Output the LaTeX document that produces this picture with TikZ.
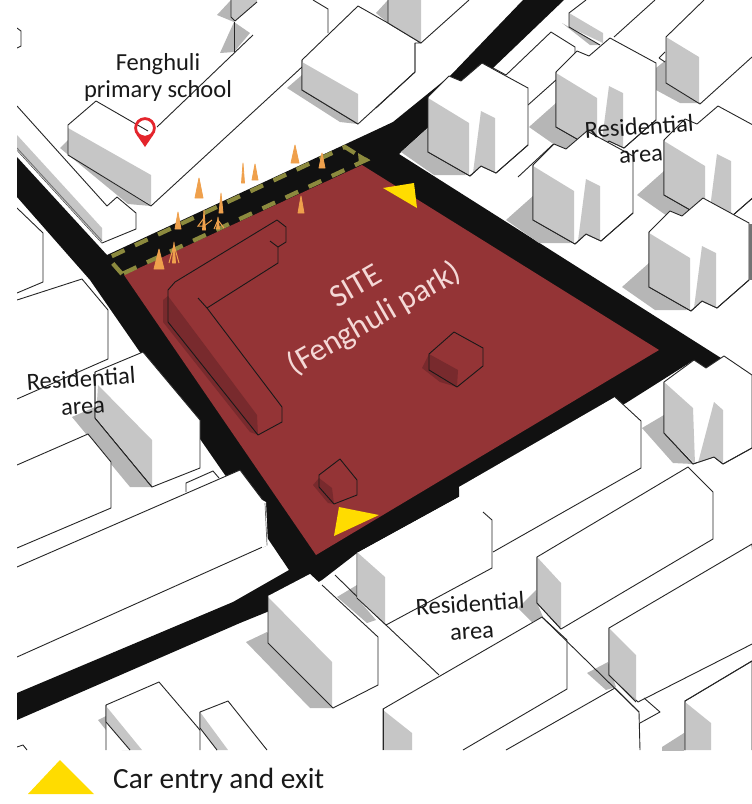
\documentclass[tikz,border=0pt]{standalone}
\usepackage{fontspec}
\setmainfont{Carlito}
\usetikzlibrary{positioning}
\definecolor{roadblack}{HTML}{111111}
\definecolor{sitered}{HTML}{943436}
\definecolor{sitedark}{HTML}{782A2D}
\definecolor{facegrey}{HTML}{C6C6C6}
\definecolor{shadegrey}{HTML}{B6B6B6}
\definecolor{pathgold}{HTML}{8C8A3E}
\definecolor{walkorange}{HTML}{EFA04C}
\definecolor{caryellow}{HTML}{FFDC00}
\definecolor{pinred}{HTML}{E4252C}
\definecolor{labelpink}{HTML}{F4D8D6}

\begin{document}
\begin{tikzpicture}[
  x=1pt, y=-1pt,
  outline/.style={draw=black!85, line width=0.9pt, line join=round},
  block/.style={outline, fill=white},
  face/.style={fill=facegrey},
  shade/.style={fill=shadegrey},
  sitebox/.style={draw=black!90, line width=0.9pt, line join=round},
  sitetext/.style={text=labelpink, font=\fontsize{32}{37}\selectfont, align=center},
  areatext/.style={text=black!90, font=\fontsize{24.5}{27}\selectfont, align=center},
  carmark/.style={fill=caryellow}
]
\useasboundingbox (0,0) rectangle (752,804);

\begin{scope}
\clip (17,0) rectangle (752,750);

% roads
\fill[roadblack] (17,157) -- (107,255) -- (376,130) -- (393,122) -- (451,75) -- (523,0) -- (564,0)
  -- (493,68) -- (399,154) -- (721,358) -- (706,368) -- (694,360) -- (626,403) -- (459,487) -- (459,497)
  -- (357,553) -- (322,580) -- (267,612) -- (240,623) -- (17,720) -- (17,693) -- (233,602) -- (289,570)
  -- (225,475) -- (90,280) -- (17,197) -- cycle;

% north-west blocks
\draw[outline] (17,28) -- (21,31) -- (21,46) -- (17,48);
\fill[shade] (217,15) -- (231,0) -- (250,0) -- (234,22) -- cycle;
\fill[shade] (250,33) -- (234,22) -- (220,53) -- (234,52) -- cycle;
\fill[face] (231,0) -- (231,17) -- (235,21) -- (257,2) -- (257,0) -- cycle;
\draw[outline] (231,0) -- (231,17) -- (235,21) -- (257,2);
\draw[outline] (234,22) -- (234,52);
\draw[outline] (313,0) -- (328,9) -- (328,33);
\fill[shade] (60,148) -- (68,140) -- (151,190) -- (151,206) -- (128,204) -- cycle;
\draw[block] (17,106) -- (107,206) -- (117,197) -- (136,213) -- (136,229) -- (102,243) -- (17,150);
\fill[face] (17,135) -- (102,228) -- (102,243) -- (17,150) -- cycle;
\draw[outline, black!55] (17,148) -- (102,241);
\fill[white] (68,125) -- (96,101) -- (148,131) -- (157,127) -- (253,35) -- (302,67) -- (151,206) -- (68,155) -- cycle;
\fill[face] (68,128) -- (151,175) -- (151,205) -- (68,155) -- cycle;
\draw[outline] (148,131) -- (96,101) -- (68,125) -- (68,155) -- (151,206) -- (302,67);
\draw[outline] (157,127) -- (253,35);
\fill[shade] (287,88) -- (302,75) -- (302,90) -- (358,124) -- (340,122) -- cycle;
\fill[shade] (388,0) -- (376,13) -- (388,23) -- cycle;
\draw[block] (302,60) -- (358,6) -- (388,23) -- (421,43) -- (415,43) -- (415,72) -- (358,124) -- (302,90) -- cycle;
\fill[face] (302,62) -- (358,94) -- (358,124) -- (302,90) -- cycle;
\fill[face] (388,0) -- (388,23) -- (421,43) -- (421,0) -- cycle;
\draw[outline] (388,0) -- (388,23) -- (421,43) -- (469,0);
\draw[outline] (415,43) -- (415,72) -- (376,108);
\draw[outline] (302,60) -- (302,90) -- (358,124);

% north-east blocks
\fill[shade] (562,23) -- (569,27) -- (600,45) -- (590,45) -- cycle;
\fill[face] (569,13) -- (603,33) -- (603,43) -- (569,27) -- cycle;
\draw[outline] (586,0) -- (569,13) -- (569,27) -- (600,45);
\draw[outline] (614,37) -- (655,0);
\draw[outline] (493,68) -- (506,75) -- (551,32) -- (575,47) -- (575,53);
\draw[outline] (528,105) -- (556,80);
\draw[outline] (518,177) -- (561,137);
\fill[shade] (666,60) -- (656,68) -- (656,90) -- (680,103) -- (700,103) -- cycle;
\draw[outline] (659,58) -- (665,52) (659,58) -- (665,62);
\fill[face] (666,37) -- (699,57) -- (699,103) -- (666,83) -- cycle;
\draw[outline] (704,0) -- (666,37) -- (666,83) -- (700,104) -- (752,57);
\foreach \tx/\ty in {556/72, 428/97, 664/140, 533/165, 649/232} {
  \begin{scope}[shift={(\tx,\ty)}]
    \fill[shade] (0,31) -- (-27,55) -- (6,78) -- (38,78) -- cycle;
    \draw[block] (0,0) -- (21,-21) -- (33,-16) -- (54,-34) -- (100,-9) -- (100,48) -- (68,76) -- (53,69) -- (42,79) -- (0,55) -- cycle;
    \fill[face] (0,1) -- (41,26) -- (41,78) -- (0,55) -- cycle;
    \fill[face] (53,14) -- (67,21) -- (67,76) -- (53,69) -- (45,76) -- cycle;
    \draw[outline] (0,0) -- (0,55) -- (42,79) -- (53,69) -- (68,76) -- (100,48);
  \end{scope}
}
\fill[black!55] (749,224) rectangle (752,280);

% east block
\fill[shade] (664,415) -- (642,428) -- (673,463) -- (693,464) -- cycle;
\draw[block] (664,382) -- (694,360) -- (706,368) -- (724,356) -- (752,375) -- (752,448) -- (723,464) -- (714,457) -- (693,464) -- (664,433) -- cycle;
\fill[face] (664,382) -- (693,408) -- (695,464) -- (664,433) -- cycle;
\fill[face] (714,402) -- (723,410) -- (723,463) -- (714,457) -- (698,463) -- cycle;
\draw[outline] (664,382) -- (664,433) -- (693,464) -- (714,457) -- (723,464) -- (752,448);

% south blocks
\fill[white] (459,487) -- (615,397) -- (641,421) -- (641,468) -- (480,560) -- cycle;
\draw[outline] (615,397) -- (641,421) -- (641,468) -- (493,552);
\fill[shade] (518,608) -- (536,590) -- (537,603) -- (543,617) -- (532,622) -- cycle;
\draw[block] (537,557) -- (688,467) -- (713,492) -- (713,539) -- (561,629) -- (537,603) -- cycle;
\fill[face] (537,557) -- (561,583) -- (561,628) -- (537,603) -- cycle;
\draw[outline] (537,557) -- (537,603) -- (561,629);
\fill[shade] (337,597) -- (357,585) -- (357,598) -- (376,620) -- (367,623) -- cycle;
\draw[outline] (335,575) -- (386,625);
\fill[white] (357,553) -- (459,497) -- (465,495) -- (483,512) -- (492,520) -- (492,568) -- (386,624) -- (357,598) -- cycle;
\fill[face] (358,553) -- (385,577) -- (385,624) -- (358,598) -- cycle;
\draw[outline] (357,553) -- (357,598) -- (386,625) -- (492,568) -- (492,520) -- (483,512);
\fill[shade] (587,673) -- (608,662) -- (616,687) -- (606,690) -- cycle;
\draw[block] (609,628) -- (752,544) -- (760,640) -- (638,702) -- (609,675) -- cycle;
\fill[face] (609,628) -- (636,655) -- (636,700) -- (609,675) -- cycle;
\draw[outline] (609,628) -- (609,675) -- (636,702);
\draw[outline] (644,698) -- (660,712) -- (640,723);
\draw[block] (506,750) -- (615,688) -- (639,712) -- (640,750);
\draw[block] (383,750) -- (383,709) -- (542,617) -- (567,640) -- (567,689) -- (463,750);
\fill[face] (383,710) -- (412,733) -- (412,750) -- (383,750) -- cycle;
\draw[outline] (383,709) -- (383,750);
\draw[outline] (386,625) -- (439,675);
\draw[outline] (542,617) -- (639,712);
\fill[shade] (662,747) -- (684,733) -- (684,752) -- (662,752) -- cycle;
\draw[block] (685,750) -- (685,701) -- (752,661) -- (752,750);
\fill[face] (685,702) -- (711,723) -- (711,750) -- (685,750) -- cycle;
\draw[outline] (685,750) -- (685,701) -- (752,661);
\fill[shade] (246,642) -- (267,632) -- (333,708) -- (310,708) -- cycle;
\fill[white] (268,596) -- (310,574) -- (378,637) -- (378,685) -- (333,708) -- (268,643) -- cycle;
\fill[face] (268,597) -- (332,662) -- (332,707) -- (268,643) -- cycle;
\draw[outline] (322,585) -- (378,637) -- (378,685) -- (333,708) -- (268,643) -- (268,596);

% south-west blocks
\draw[outline] (17,208) -- (43,233) -- (43,282) -- (17,293);
\draw[outline] (17,300) -- (82,279) -- (108,310) -- (108,359) -- (17,399);
\fill[shade] (72,417) -- (95,407) -- (152,487) -- (130,487) -- cycle;
\draw[block] (95,372) -- (143,352) -- (200,420) -- (200,468) -- (152,487) -- (95,418) -- cycle;
\fill[face] (98,385) -- (152,440) -- (152,486) -- (96,418) -- cycle;
\draw[outline] (95,372) -- (95,418) -- (152,487);
\draw[block] (17,465) -- (88,434) -- (111,462) -- (111,508) -- (17,548);
\draw[block] (186,492) -- (186,483) -- (213,471) -- (219,478);
\draw[block] (17,567) -- (240,470) -- (265,503) -- (267,545) -- (17,657);
\fill[white] (266,502) -- (268,545) -- (262,548) -- (262,500) -- cycle;
\draw[black!60, line width=0.7pt] (265,503) -- (267,545);
\fill[shade] (98,720) -- (106,716) -- (106,722) -- (130,750) -- (122,750) -- cycle;
\draw[block] (106,750) -- (106,705) -- (159,682) -- (217,750);
\fill[face] (106,706) -- (106,722) -- (130,750) -- (142,750) -- cycle;
\draw[outline] (106,705) -- (106,722) -- (130,750);
\draw[block] (200,750) -- (200,712) -- (228,701) -- (267,750);
\fill[face] (200,712) -- (200,728) -- (217,750) -- (228,750) -- cycle;
\draw[outline] (200,712) -- (200,728) -- (217,750);
\draw[outline] (17,747) -- (23,745) -- (27,750);

% site with its three blocks
\fill[sitered] (124,275) -- (362,165) -- (659,350) -- (316,555) -- cycle;
\fill[sitedark] (163,300) -- (168,296) -- (257,415) -- (258,435) -- (250,432) -- (163,322) -- cycle;
\draw[sitebox] (277,220) -- (286,227) -- (286,242) -- (278,247) -- (278,263) -- (207,308)
  -- (282,407) -- (282,422) -- (258,435) -- (168,322) -- (168,290) -- (175,282) -- cycle;
\draw[sitebox] (278,247) -- (270,241);
\draw[sitebox] (207,308) -- (198,298);
\fill[sitedark] (422,368) -- (429,354) -- (458,370) -- (457,387) -- (440,382) -- cycle;
\draw[sitebox] (429,354) -- (454,332) -- (483,348) -- (483,366) -- (457,387) -- (429,370) -- cycle;
\fill[sitedark] (313,485) -- (319,478) -- (332,488) -- (334,504) -- (328,503) -- cycle;
\draw[sitebox] (319,475) -- (340,459) -- (357,480) -- (357,495) -- (334,504) -- (319,487) -- cycle;

% walking route
\draw[pathgold, line width=4.2pt, dash pattern=on 14pt off 11.5pt] (122,274) -- (108,258) -- (345,147) -- (366,160) -- cycle;
\fill[pathgold] (358,153) -- (370,160) -- (359,164) -- cycle;

% people
\foreach \px/\py/\ph/\pw in {295/163/18/4, 322/168/15/3, 243/183/20/1.5, 255/180/16/3, 199/198/20/4,
  221/213/20/2, 178/229/17/3, 204/230/20/1.5, 218/229/12/1.5, 159/269/20/5, 174/263/21/1.5, 301/213/17/3} {
  \filldraw[walkorange, line width=0.8pt, line join=round] (\px-\pw,\py) -- (\px,\py-\ph) -- (\px+\pw,\py) -- cycle;
}
\draw[walkorange, line width=1pt] (174,245) -- (169,263) (174,245) -- (179,263);
\draw[walkorange, line width=1pt] (204,218) -- (198,226) -- (204,226) -- (212,220);
\draw[walkorange, line width=1pt] (218,220) -- (214,229) (218,220) -- (224,228);

% car marks
\fill[carmark] (383,188) -- (414,183) -- (417,208) -- cycle;
\fill[carmark] (339,507) -- (379,515) -- (334,536) -- cycle;

% school pin
\draw[pinred, line width=2.8pt] (145,128) circle (9.4);
\fill[pinred] (136.8,135) -- (145,147) -- (153.2,135) -- (149,134.7) -- (145,136) -- (141,134.7) -- cycle;

\node[areatext] (school) at (158,77) {Fenghuli\\primary school};
\node[areatext, rotate=4] (restop) at (640,140) {Residential\\area};
\node[areatext, rotate=4] (resleft) at (82,392) {Residential\\area};
\node[areatext, rotate=4] (resbottom) at (471,617) {Residential\\area};
\node[sitetext, rotate=30] (sitename) at (366,304) {SITE\\(Fenghuli park)};
\end{scope}

% legend
\fill[carmark] (60,760) -- (94,794) -- (28,794) -- cycle;
\node[anchor=base west, text=black!90, font=\fontsize{29.3}{34}\selectfont, inner sep=0pt] (legend) at (113,788) {Car entry and exit};
\end{tikzpicture}
\end{document}
